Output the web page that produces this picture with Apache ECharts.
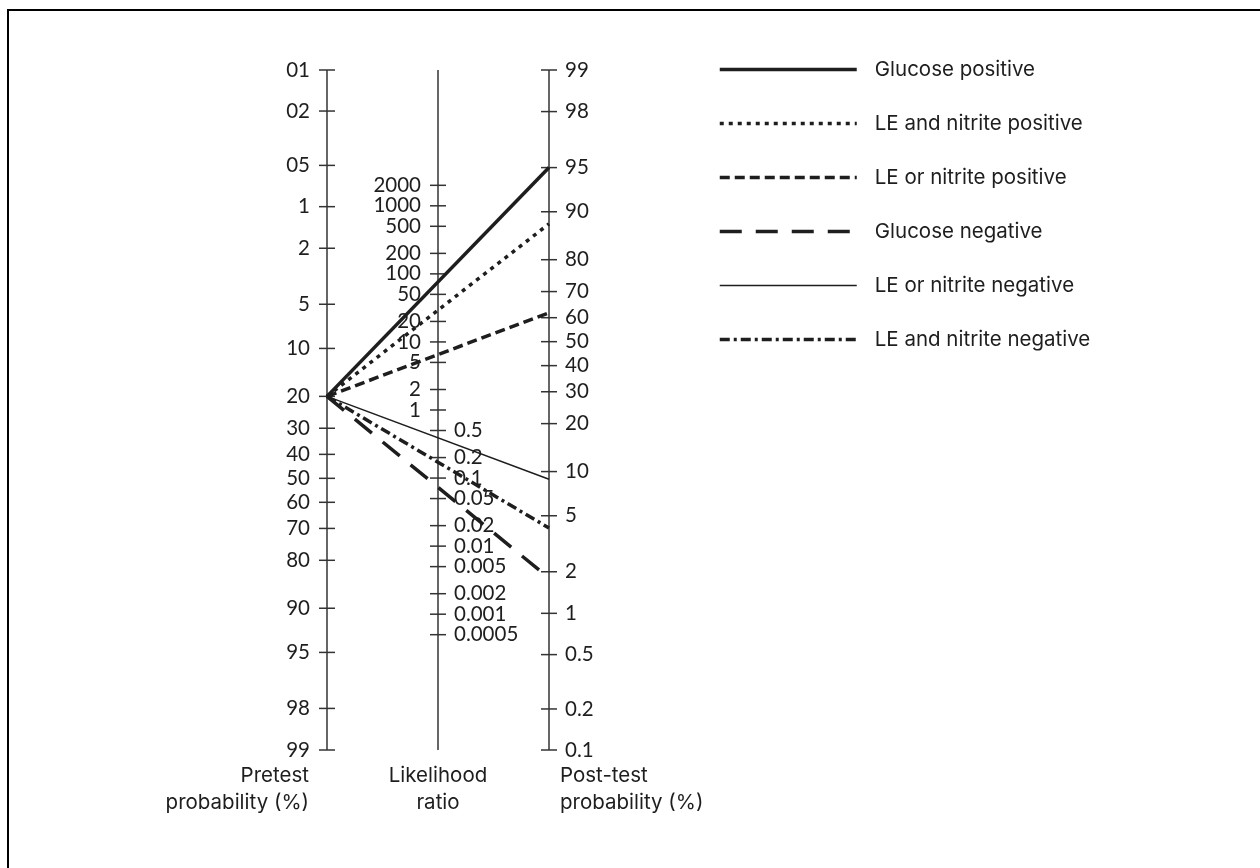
<!DOCTYPE html>
<html><head><meta charset="utf-8">
<script src="https://cdn.jsdelivr.net/npm/echarts@6/dist/echarts.min.js"></script>
<style>html,body{margin:0;padding:0;background:#fff}#c{width:1260px;height:868px}</style>
</head><body><div id="c"></div>
<script>
// ---- data ----
const pretestTicks = [0.1,0.2,0.5,1,2,5,10,20,30,40,50,60,70,80,90,95,98,99];
const pretestLabels = ['01','02','05','1','2','5','10','20','30','40','50','60','70','80','90','95','98','99'];
const lrTicks = [2000,1000,500,200,100,50,20,10,5,2,1,0.5,0.2,0.1,0.05,0.02,0.01,0.005,0.002,0.001,0.0005];
const lrLabels = ['2000','1000','500','200','100','50','20','10','5','2','1','0.5','0.2','0.1','0.05','0.02','0.01','0.005','0.002','0.001','0.0005'];
const posttestTicks = [99,98,95,90,80,70,60,50,40,30,20,10,5,2,1,0.5,0.2,0.1];
const posttestLabels = ['99','98','95','90','80','70','60','50','40','30','20','10','5','2','1','0.5','0.2','0.1'];
const axisTitles = ['Pretest\nprobability (%)', 'Likelihood\nratio', 'Post-test\nprobability (%)'];
const testNames = ['Glucose positive','LE and nitrite positive','LE or nitrite positive','Glucose negative','LE or nitrite negative','LE and nitrite negative'];
const pretestValue = 20;
const posttestValues = [95, 88, 62, 1.8, 8.9, 4.1];

// ---- nomogram scale (logit) ----
const logit = p => Math.log(p / (100 - p));
const TOP = logit(0.1), BOTTOM = logit(99);
const vLeft = p => logit(p);
const vRight = p => TOP + BOTTOM - logit(p);
const vMid = lr => (TOP + BOTTOM - Math.log(lr)) / 2;

const FONT = '20.5px Lato';
const WORD_FONT = '20.5px Inter';
const INK = '#1e1e1e';

const tickItems = [];
pretestTicks.forEach((t,i)=>tickItems.push({x:0, v:vLeft(t), label:pretestLabels[i], side:'left'}));
lrTicks.forEach((t,i)=>tickItems.push({x:1, v:vMid(t), label:lrLabels[i], side: t >= 1 ? 'left' : 'right'}));
posttestTicks.forEach((t,i)=>tickItems.push({x:2, v:vRight(t), label:posttestLabels[i], side:'right'}));

const lineStyles = [
  {width:3.5, type:'solid'},
  {width:3.5, type:[4,5]},
  {width:3.5, type:[10,5]},
  {width:3.5, type:[22,14]},
  {width:1.5, type:'solid'},
  {width:3.5, type:[10,4,3,4]}
];

const chart = echarts.init(document.getElementById('c'), null, {renderer:'canvas'});
const option = {
  animation:false,
  backgroundColor:'#fff',
  grid:{left:327, right:711, top:70, bottom:118},
  xAxis:{type:'value', min:0, max:2, show:false},
  yAxis:{type:'value', min:TOP, max:BOTTOM, inverse:true, show:false},
  legend:{
    data:testNames.map((name,i)=>({name, lineStyle:{width:lineStyles[i].width, type:lineStyles[i].type, color:INK}})),
    orient:'vertical', left:718, top:59, padding:0,
    itemWidth:137, itemHeight:20, itemGap:33,
    itemStyle:{opacity:0},
    textStyle:{fontFamily:'Inter', fontSize:20.5, color:INK, padding:[0,0,0,13], lineHeight:20},
    selectedMode:false
  },
  graphic:[{type:'rect', shape:{x:8, y:10, width:1300, height:900}, style:{fill:'none', stroke:'#000', lineWidth:2}, silent:true}],
  series:[
    {
      type:'custom', name:'axes', silent:true, z:1,
      data:[[0],[1],[2]],
      renderItem:(params, api)=>{
        const i = params.dataIndex;
        const a = api.coord([i, TOP]), b = api.coord([i, BOTTOM]);
        const lines = axisTitles[i].split('\n');
        const align = i===0 ? 'right' : (i===1 ? 'center' : 'left');
        const tx = i===0 ? a[0]-18 : (i===1 ? a[0] : a[0]+11);
        return {type:'group', children:[
          {type:'line', shape:{x1:a[0],y1:a[1],x2:b[0],y2:b[1]}, style:{stroke:'#333', lineWidth:1.5}},
          {type:'text', style:{text:lines[0], x:tx, y:b[1]+26, align, verticalAlign:'middle', font:WORD_FONT, fill:INK}},
          {type:'text', style:{text:lines[1], x:tx, y:b[1]+53, align, verticalAlign:'middle', font:WORD_FONT, fill:INK}}
        ]};
      }
    },
    {
      type:'custom', name:'ticks', silent:true, z:2,
      data:tickItems.map(t=>[t.x, t.v]),
      renderItem:(params, api)=>{
        const it = tickItems[params.dataIndex];
        const p = api.coord([api.value(0), api.value(1)]);
        const right = it.side === 'right';
        return {type:'group', children:[
          {type:'line', shape:{x1:p[0]-8,y1:p[1],x2:p[0]+8,y2:p[1]}, style:{stroke:'#333', lineWidth:1.5}},
          {type:'text', style:{text:it.label, x: right ? p[0]+16 : p[0]-17, y:p[1], align: right?'left':'right', verticalAlign:'middle', font:FONT, fill:INK}}
        ]};
      }
    }
  ].concat(testNames.map((name,i)=>({
    type:'line', name, z:3, silent:true, symbol:'none', color:INK,
    data:[[0, vLeft(pretestValue)], [2, vRight(posttestValues[i])]],
    lineStyle:Object.assign({color:INK}, lineStyles[i])
  })))
};
chart.setOption(option);
</script>
</body></html>
